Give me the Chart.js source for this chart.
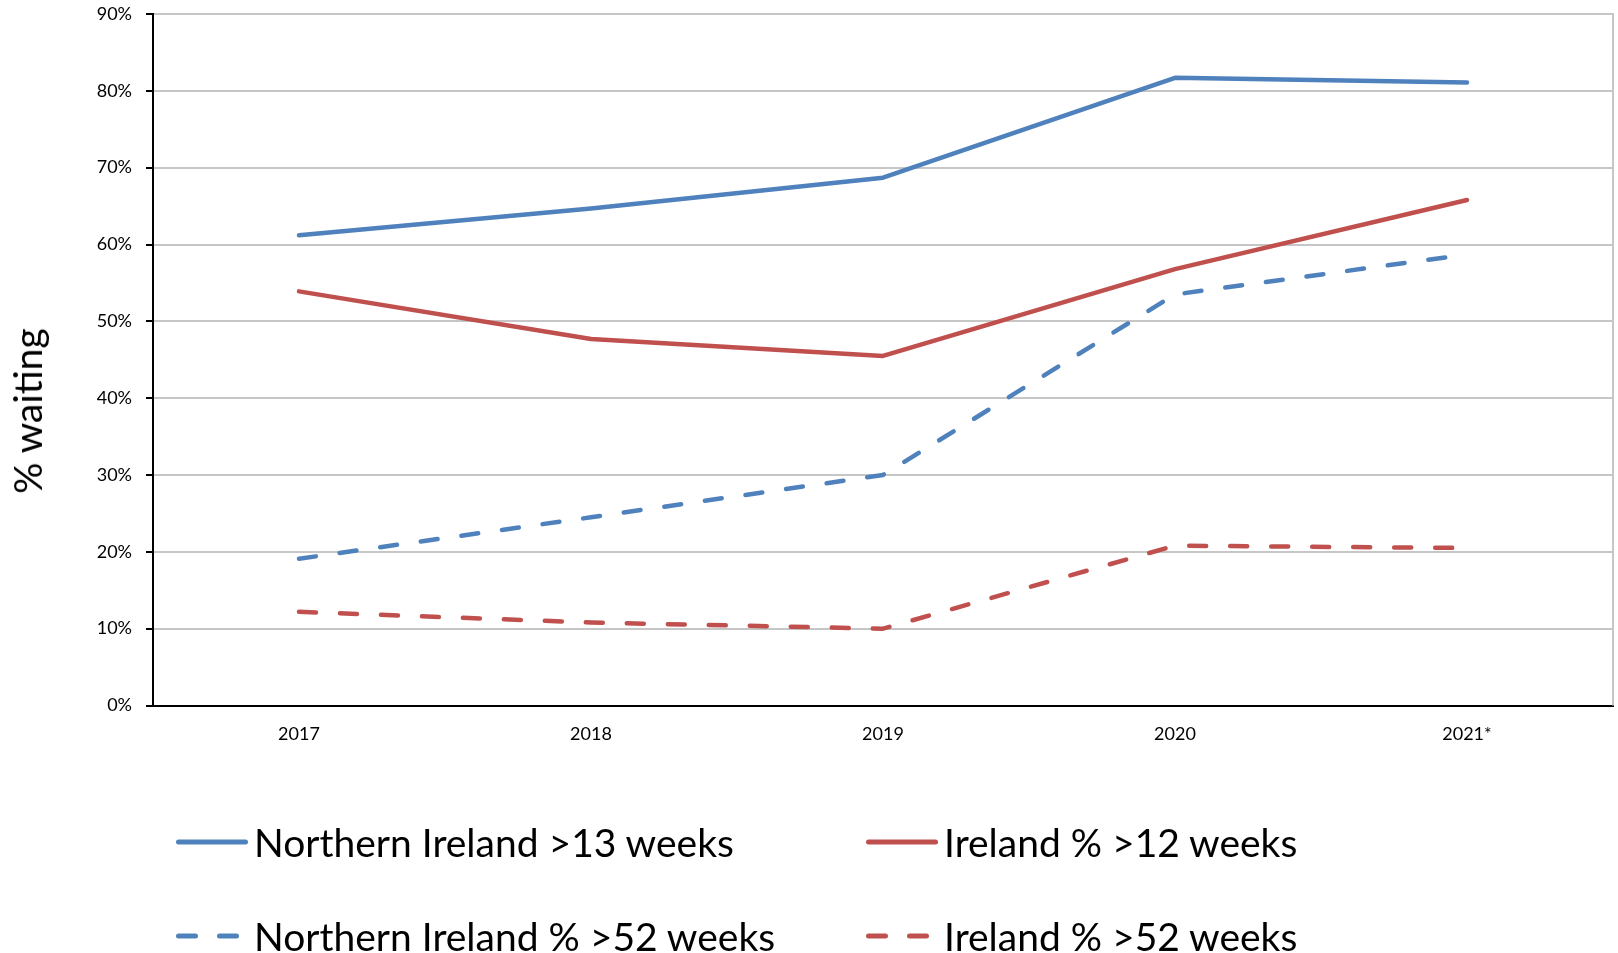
<!DOCTYPE html>
<html>
<head>
<meta charset="utf-8">
<script src="https://cdn.jsdelivr.net/npm/chart.js@4.4.0/dist/chart.umd.min.js"></script>
<style>
  body { margin: 0; background: #fff; font-family: Lato, "Open Sans", sans-serif; }
  #wrap { position: relative; width: 1618px; height: 953px; overflow: hidden; }
  #yTitle { position: absolute; left: 27px; top: 411px; transform: translate(-50%, -50%) rotate(-90deg);
            font-size: 39px; color: #000; white-space: nowrap; }
  .leg { position: absolute; display: flex; align-items: center; font-size: 39px; color: #000;
         white-space: nowrap; transform: translateY(-50%); }
  .leg svg { margin-right: 6px; }
</style>
</head>
<body>
<div id="wrap">
  <canvas id="line-chart"></canvas>
  <div id="yTitle">% waiting</div>
</div>
<script>
const years = ['2017', '2018', '2019', '2020', '2021*'];
const niOver13 = [61.2, 64.7, 68.7, 81.7, 81.1];
const irlOver12 = [53.9, 47.7, 45.5, 56.8, 65.8];
const niOver52 = [19.1, 24.5, 30.0, 53.5, 58.7];
const irlOver52 = [12.2, 10.8, 10.0, 20.8, 20.5];
const seriesNames = ['Northern Ireland >13 weeks', 'Ireland % >12 weeks',
                     'Northern Ireland % >52 weeks', 'Ireland % >52 weeks'];

const blue = '#4f81bd', red = '#c0504d';
const dash = [17, 24];

// grey frame line on the right edge of the plot
const rightFrame = {
  id: 'rightFrame',
  beforeDatasetsDraw(chart) {
    const a = chart.chartArea, ctx = chart.ctx;
    ctx.save();
    ctx.strokeStyle = '#c6c6c6';
    ctx.lineWidth = 2;
    ctx.beginPath();
    ctx.moveTo(a.right, a.top - 1);
    ctx.lineTo(a.right, a.bottom);
    ctx.stroke();
    ctx.restore();
  }
};

function ds(label, data, color, borderDash) {
  return {
    label: label, data: data,
    borderColor: color, backgroundColor: color,
    borderWidth: 4.5, borderDash: borderDash,
    borderCapStyle: 'round', borderJoinStyle: 'round',
    pointRadius: 0, pointHoverRadius: 0, tension: 0
  };
}

const datasets = [
  ds(seriesNames[0], niOver13, blue, []),
  ds(seriesNames[1], irlOver12, red, []),
  ds(seriesNames[2], niOver52, blue, dash),
  ds(seriesNames[3], irlOver52, red, dash)
];

new Chart(document.getElementById('line-chart'), {
  type: 'line',
  data: { labels: years, datasets: datasets },
  options: {
    responsive: true,
    maintainAspectRatio: false,
    animation: false,
    layout: { padding: { top: 14, right: 5, left: 0, bottom: 187.5 } },
    plugins: { legend: { display: false }, tooltip: { enabled: false } },
    scales: {
      x: {
        offset: true,
        grid: { display: false, drawTicks: false },
        border: { display: true, color: '#000', width: 2 },
        ticks: { color: '#000', padding: 18, font: { family: 'Lato', size: 18 } },
        afterFit: (s) => { s.height = 60; }
      },
      y: {
        min: 0, max: 90,
        grid: { color: '#c6c6c6', lineWidth: 2, tickLength: 7, tickColor: '#000', tickWidth: 2 },
        border: { display: true, color: '#000', width: 2 },
        ticks: { stepSize: 10, color: '#000', padding: 14, font: { family: 'Lato', size: 18 },
                 callback: (v) => v + '%' },
        afterFit: (s) => { s.width = 153; s.paddingTop = 0; s.paddingBottom = 0; }
      }
    }
  },
  plugins: [rightFrame]
});

// legend, two columns by two rows
const legPos = [[176, 842], [866, 842], [176, 936], [866, 936]];
const wrap = document.getElementById('wrap');
datasets.forEach((d, i) => {
  const el = document.createElement('div');
  el.className = 'leg';
  el.style.left = legPos[i][0] + 'px';
  el.style.top = legPos[i][1] + 'px';
  const da = d.borderDash.length ? ' stroke-dasharray="' + d.borderDash.join(' ') + '"' : '';
  el.innerHTML = '<svg width="72" height="10"><line x1="2.5" y1="5" x2="69.5" y2="5" stroke="' +
    d.borderColor + '" stroke-width="5" stroke-linecap="round"' + da + '/></svg><span>' + d.label + '</span>';
  wrap.appendChild(el);
});
</script>
</body>
</html>
